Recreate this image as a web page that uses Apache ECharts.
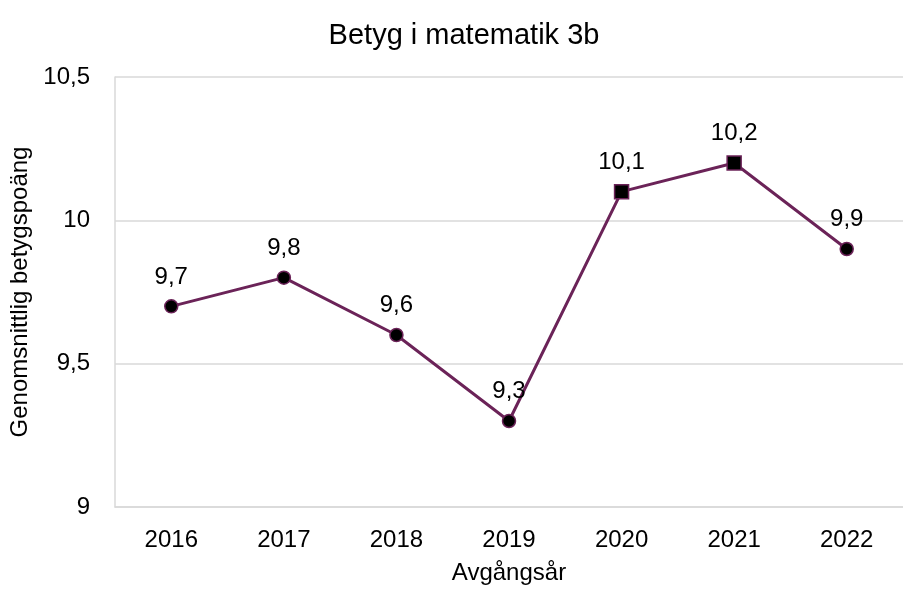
<!DOCTYPE html>
<html><head><meta charset="utf-8">
<script src="https://cdn.jsdelivr.net/npm/echarts@6/dist/echarts.min.js"></script>
<style>html,body{margin:0;padding:0;background:#fff}#c{width:903px;height:590px}</style>
</head><body><div id="c"></div>
<script>
const categories = ['2016','2017','2018','2019','2020','2021','2022'];
const values = [9.7, 9.8, 9.6, 9.3, 10.1, 10.2, 9.9];
const symbols = ['circle','circle','circle','circle','rect','rect','circle'];
const yTicks = [9, 9.5, 10, 10.5];

const font = 'Liberation Sans, Arial, sans-serif';
const chart = echarts.init(document.getElementById('c'));
chart.setOption({
  animation: false,
  title: { text: 'Betyg i matematik 3b', left: 459, textAlign: 'center', top: 16,
    textStyle: { fontFamily: font, fontSize: 29, fontWeight: 'normal', color: '#000' } },
  grid: { left: 115, top: 77, width: 801, height: 436, containLabel: false },
  xAxis: { type: 'category', data: categories, boundaryGap: true,
    name: 'Avgångsår', nameLocation: 'middle', nameGap: 54,
    nameTextStyle: { fontFamily: font, fontSize: 24, color: '#000' },
    axisLine: { show: true, lineStyle: { color: '#d9d9d9', width: 1.5 } },
    axisTick: { show: false },
    axisLabel: { fontFamily: font, fontSize: 24, color: '#000', margin: 21 } },
  yAxis: { type: 'value', min: yTicks[0], max: yTicks[yTicks.length-1], interval: 0.5,
    name: 'Genomsnittlig betygspoäng', nameLocation: 'middle', nameGap: 74, nameRotate: 90,
    nameTextStyle: { fontFamily: font, fontSize: 24, color: '#000' },
    axisLine: { show: true, lineStyle: { color: '#d9d9d9', width: 1.5 } },
    axisTick: { show: false },
    splitLine: { lineStyle: { color: '#d9d9d9', width: 1.5 } },
    axisLabel: { fontFamily: font, fontSize: 24, color: '#000', margin: 25,
      formatter: v => String(v).replace('.', ',') } },
  series: [{
    type: 'line',
    data: values.map((v, i) => ({ value: v, symbol: symbols[i], symbolSize: symbols[i] === 'rect' ? 14 : 13 })),
    lineStyle: { color: '#6b2358', width: 3 },
    itemStyle: { color: '#000', borderColor: '#6b2358', borderWidth: 1.5 },
    label: { show: true, position: 'top', distance: 10, fontFamily: font, fontSize: 24, color: '#000',
      formatter: p => String(p.value).replace('.', ',') }
  }]
});
</script></body></html>
